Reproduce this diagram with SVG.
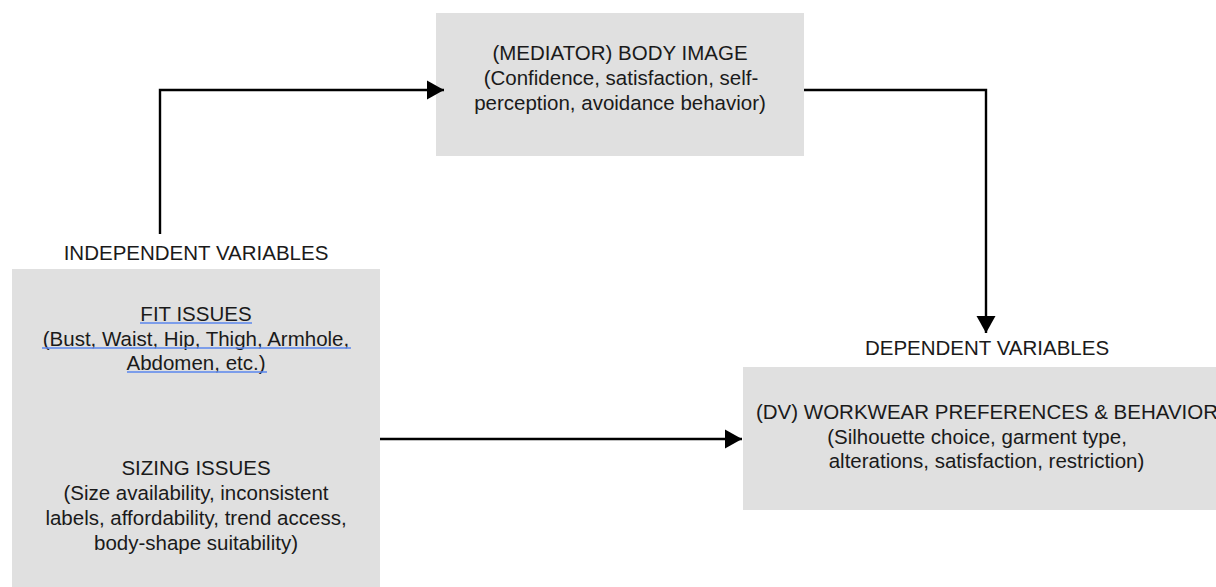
<svg xmlns="http://www.w3.org/2000/svg" width="1216" height="587" viewBox="0 0 1216 587">
  <style>
    .box { fill: #e0e0e0; }
    .t { font-family: "Liberation Sans", Arial, sans-serif; font-size: 20.5px; fill: #1a1a1a; text-anchor: middle; }
    .conn { fill: none; stroke: #000; stroke-width: 2.4; }
    .ul { stroke: #5b87ee; stroke-width: 1.4; }
  </style>
  <defs>
    <marker id="ah" markerUnits="userSpaceOnUse" markerWidth="20" markerHeight="22" viewBox="0 0 20 22" refX="18" refY="11" orient="auto">
      <path d="M1,1.5 L18,11 L1,20.5 z" fill="#000"/>
    </marker>
  </defs>
  <rect width="1216" height="587" fill="#fff"/>

  <g id="labels">
    <text class="t" x="196" y="260">INDEPENDENT VARIABLES</text>
    <text class="t" x="987" y="355">DEPENDENT VARIABLES</text>
  </g>

  <g id="iv">
    <rect class="box" x="12" y="269" width="368" height="330"/>
    <text class="t" x="196" y="321">FIT ISSUES</text>
    <text class="t" x="196" y="346">(Bust, Waist, Hip, Thigh, Armhole,</text>
    <text class="t" x="196" y="370">Abdomen, etc.)</text>
    <line class="ul" x1="140" y1="323" x2="252" y2="323"/>
    <line class="ul" x1="42" y1="348" x2="351" y2="348"/>
    <line class="ul" x1="127" y1="372" x2="267" y2="372"/>
    <text class="t" x="196" y="475">SIZING ISSUES</text>
    <text class="t" x="196" y="500">(Size availability, inconsistent</text>
    <text class="t" x="196" y="525">labels, affordability, trend access,</text>
    <text class="t" x="196" y="550">body-shape suitability)</text>
  </g>

  <g id="mediator">
    <rect class="box" x="436" y="13" width="368" height="143"/>
    <text class="t" x="620" y="60">(MEDIATOR) BODY IMAGE</text>
    <text class="t" x="621" y="85">(Confidence, satisfaction, self-</text>
    <text class="t" x="620" y="110">perception, avoidance behavior)</text>
  </g>

  <g id="dv">
    <rect class="box" x="743" y="367" width="500" height="143"/>
    <text class="t" x="987" y="419">(DV) WORKWEAR PREFERENCES &amp; BEHAVIOR</text>
    <text class="t" x="977" y="444">(Silhouette choice, garment type,</text>
    <text class="t" x="986.5" y="468">alterations, satisfaction, restriction)</text>
  </g>

  <g id="connectors">
    <path class="conn" d="M160,234 V90 H444" marker-end="url(#ah)"/>
    <path class="conn" d="M804,90 H986 V333" marker-end="url(#ah)"/>
    <path class="conn" d="M380,439 H742" marker-end="url(#ah)"/>
  </g>
</svg>
